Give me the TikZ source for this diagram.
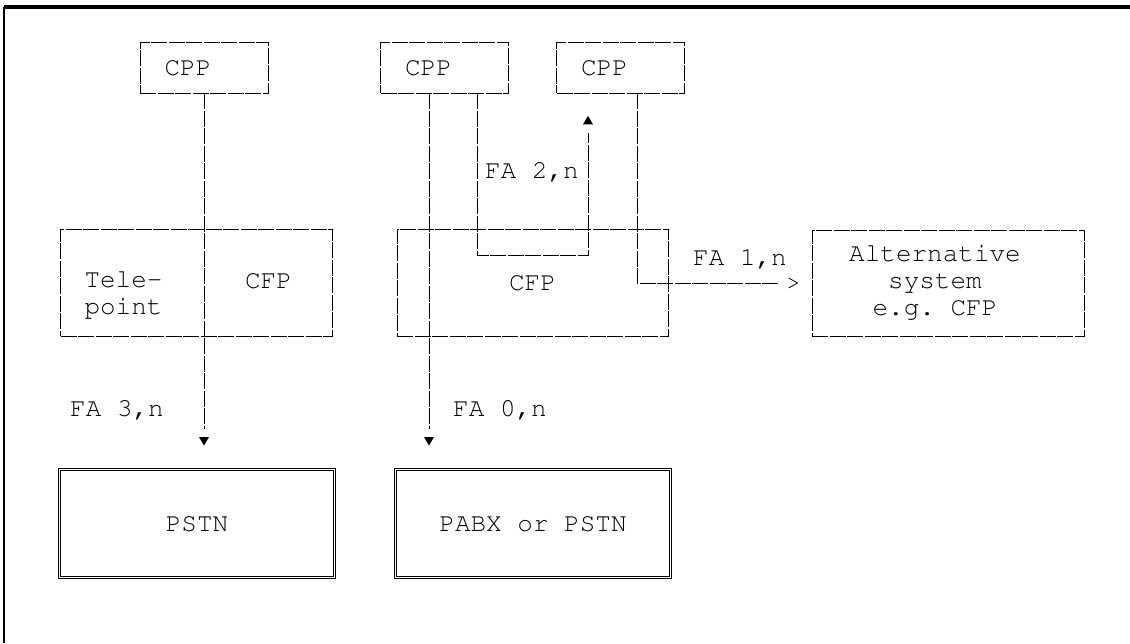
\documentclass[tikz,border=0pt]{standalone}
\usepackage[T1]{fontenc}
\usepackage{courier}
\usetikzlibrary{
  arrows.meta,
  positioning,
  decorations.markings,
}

\begin{document}
\begin{tikzpicture}[x=1pt, y=-1pt,
  font=\ttfamily\fontsize{26}{27}\selectfont,
  box/.style={draw, line width=0.8pt, dash pattern=on 16pt off 1.5pt, inner sep=0pt},
  cpp/.style={box, minimum width=128pt, minimum height=51pt,
    label={[xshift=-16pt]center:CPP}},
  dbox/.style={draw, double, double distance=1.8pt, line width=0.9pt,
    minimum width=275pt, minimum height=108pt},
  wire/.style={line width=0.8pt, dash pattern=on 16pt off 1.5pt},
  tri/.style={postaction={decorate, decoration={markings, mark=at position #1 with
    {\fill (0.5pt,0) -- (-8pt,5pt) -- (-8pt,-5pt) -- cycle;}}}}]
  \useasboundingbox (0,0) rectangle (1130,643);
  \draw[line width=3.5pt] (1130,7) -- (4,7);
  \draw[line width=2.5pt] (4,7) -- (4,643);

  \node[cpp] (cppa) at (204,67.5)   {};
  \node[cpp] (cppb) at (444.5,67.5) {};
  \node[cpp] (cppc) at (620.5,67.5) {};

  \node[box, minimum width=272pt, minimum height=107pt] (tele) at (196.5,282.5) {};
  \node[align=center] (telet) at (123.5,294.5) {Tele-\\point};
  \node (cfpa) at (268.5,281) {CFP};
  \node[box, minimum width=271pt, minimum height=107pt] (cfpb) at (532.5,282.5) {CFP};
  \node[box, minimum width=272pt, minimum height=106pt] (alt) at (948,283) {};
  \node[align=center] (altt) at (935,282) {Alternative\\system\\e.g.\ CFP};

  \node[dbox] (pstn) at (197,523.5) {PSTN};
  \node[dbox] (pabx) at (533,523.5) {PABX or PSTN};

  \node (fa3) at (117,410) {FA 3,n};
  \node (fa0) at (500,410) {FA 0,n};
  \node (fa2) at (532,172) {FA 2,n};
  \node (fa1) at (740,259) {FA 1,n};

  \draw[wire, shorten >=40pt, tri=-24pt] (cppa) -- (cppa |- pstn.north);
  \draw[wire, shorten >=40pt, tri=-24pt] ([xshift=-15.5pt]cppb.south)
    -- ([xshift=-15.5pt]cppb.south |- pabx.north);
  \draw[wire, shorten >=17pt, tri=1] ([xshift=32.5pt]cppb.south)
    -- ++(0,162) -| ([xshift=-32.5pt, yshift=-23pt]cppc.south);
  \draw[wire, shorten >=32pt] ([xshift=16.5pt]cppc.south) |- (alt.west);
  \draw[line width=0.8pt] ([xshift=-23pt, yshift=5pt]alt.west)
    -- ([xshift=-14pt]alt.west) -- ([xshift=-23pt, yshift=-5pt]alt.west);
\end{tikzpicture}
\end{document}
